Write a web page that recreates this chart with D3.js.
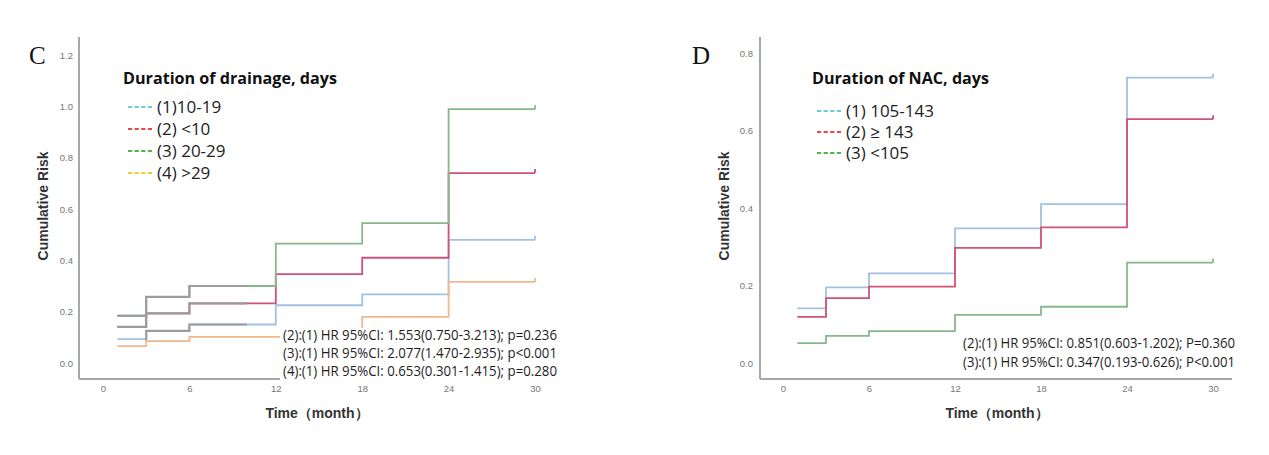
<!DOCTYPE html>
<html><head><meta charset="utf-8">
<script src="https://cdn.jsdelivr.net/npm/d3@7"></script>
<style>
html,body{margin:0;padding:0;background:#fff;}
svg{display:block;}
</style></head>
<body>
<svg id="chart" width="1269" height="455"></svg>
<script>
// ---------- DATA ----------
const timeSteps = [1, 3, 6, 12, 18, 24, 30];   // months at which each step begins (last = end of follow-up)
const xTicks = [0, 6, 12, 18, 24, 30];

// Panel C: Duration of drainage, days
const legendTitleC = "Duration of drainage, days";
const seriesNamesC = ["(1)10-19", "(2) <10", "(3) 20-29", "(4) >29"];
const riskC1 = [0.093, 0.125, 0.150, 0.225, 0.267, 0.480, 0.480];
const riskC2 = [0.141, 0.193, 0.232, 0.346, 0.410, 0.740, 0.740];
const riskC3 = [0.184, 0.258, 0.300, 0.465, 0.545, 0.989, 0.989];
const riskC4 = [0.066, 0.085, 0.102, 0.102, 0.180, 0.316, 0.316];
const yTicksC = [0, 0.2, 0.4, 0.6, 0.8, 1.0, 1.2];
const notesC = [
  "(2):(1) HR 95%CI: 1.553(0.750-3.213); p=0.236",
  "(3):(1) HR 95%CI: 2.077(1.470-2.935); p<0.001",
  "(4):(1) HR 95%CI: 0.653(0.301-1.415); p=0.280"
];

// Panel D: Duration of NAC, days
const legendTitleD = "Duration of NAC, days";
const seriesNamesD = ["(1) 105-143", "(2) \u2265 143", "(3) <105"];
const riskD1 = [0.142, 0.196, 0.232, 0.348, 0.411, 0.737, 0.737];
const riskD2 = [0.120, 0.168, 0.198, 0.298, 0.351, 0.630, 0.630];
const riskD3 = [0.052, 0.071, 0.083, 0.125, 0.146, 0.260, 0.260];
const yTicksD = [0, 0.2, 0.4, 0.6, 0.8];
const notesD = [
  "(2):(1) HR 95%CI: 0.851(0.603-1.202); P=0.360",
  "(3):(1) HR 95%CI: 0.347(0.193-0.626); P<0.001"
];

const xTitle = "Time\uFF08month\uFF09";
const yTitle = "Cumulative Risk";

// ---------- STYLE ----------
const lineColors = ["#a3c1e2", "#cf5277", "#86b88c", "#f1b88f"];
const legendColors = ["#3cc0c8", "#e01010", "#1a9a1a", "#f2b400"];
const axisColor = "#a8a8a8";
const greyLine = "#9c9c9c";

const svg = d3.select("#chart");

function drawPanel(p) {
  const g = svg.append("g");
  const x = d3.scaleLinear().domain([0, 30]).range([p.x0, p.x30]);
  const y = d3.scaleLinear().domain([0, p.yMax]).range([p.y0, p.yTop]);

  // axis lines
  g.append("line").attr("x1", p.axisX).attr("x2", p.axisX).attr("y1", p.axisTop).attr("y2", p.axisY)
    .attr("stroke", axisColor).attr("stroke-width", 2);
  g.append("line").attr("x1", p.axisX).attr("x2", p.axisRight).attr("y1", p.axisY).attr("y2", p.axisY)
    .attr("stroke", axisColor).attr("stroke-width", 2);

  // y axis labels
  const ya = g.append("g").attr("transform", `translate(${p.axisX},0)`)
    .call(d3.axisLeft(y).tickValues(p.yTicks).tickSize(0).tickPadding(p.yPad).tickFormat(d3.format(".1f")));
  ya.select(".domain").remove();
  ya.selectAll("text").attr("font-family", "Liberation Sans, Arial, sans-serif").attr("font-size", 9.5).attr("fill", "#777");

  const xa = g.append("g").attr("transform", `translate(0,${p.axisY})`)
    .call(d3.axisBottom(x).tickValues(xTicks).tickSize(0).tickPadding(6));
  xa.select(".domain").remove();
  xa.selectAll("text").attr("font-family", "Liberation Sans, Arial, sans-serif").attr("font-size", 9.5).attr("fill", "#777");

  // axis titles
  g.append("text").attr("x", p.xTitleX).attr("y", 418).attr("text-anchor", "middle")
    .attr("font-family", "Liberation Sans, Arial, sans-serif").attr("font-weight", "bold").attr("font-size", 14)
    .attr("fill", "#333").text(xTitle);
  g.append("text").attr("transform", `translate(${p.yTitleX},${p.yTitleY}) rotate(-90)`).attr("text-anchor", "middle")
    .attr("font-family", "Liberation Sans, Arial, sans-serif").attr("font-weight", "bold").attr("font-size", 14)
    .attr("fill", "#333").text(yTitle);

  // panel letter
  g.append("text").attr("x", p.letterX).attr("y", 64).attr("font-family", "Liberation Serif, Times New Roman, serif")
    .attr("font-size", 25).attr("fill", "#111").text(p.letter);

  // curves
  const stepLine = d3.line().x(d => x(d[0])).y(d => y(d[1])).curve(d3.curveStepAfter);
  p.series.forEach((vals, i) => {
    const pts = timeSteps.map((t, k) => [t, vals[k]]);
    g.append("path").attr("d", stepLine(pts)).attr("fill", "none")
      .attr("stroke", lineColors[i]).attr("stroke-width", 1.8);
    // censor tick at end
    const last = pts[pts.length - 1];
    g.append("line").attr("x1", x(last[0])).attr("x2", x(last[0]))
      .attr("y1", y(last[1])).attr("y2", y(last[1]) - 4)
      .attr("stroke", lineColors[i]).attr("stroke-width", 1.8);
  });

  // grey overlay (faded early part in the original)
  if (p.grey) {
    p.grey.forEach(gs => {
      const id = `clip-${p.letter}-${gs.i}`;
      svg.append("clipPath").attr("id", id).append("rect")
        .attr("x", x(gs.from) - 1).attr("width", x(gs.to) - x(gs.from) + 1)
        .attr("y", 0).attr("height", 455);
      const pts = timeSteps.map((t, k) => [t, p.series[gs.i][k]]);
      g.append("path").attr("d", stepLine(pts)).attr("fill", "none")
        .attr("stroke", greyLine).attr("stroke-width", 2.2).attr("clip-path", `url(#${id})`);
    });
  }

  // annotations
  g.append("rect").attr("x", p.noteX - 3).attr("y", p.noteY0 - 12).attr("width", p.noteW + 6)
    .attr("height", p.notes.length * p.noteStep + 2).attr("fill", "#fff");
  p.notes.forEach((s, i) => {
    g.append("text").attr("x", p.noteX).attr("y", p.noteY0 + i * p.noteStep)
      .attr("font-family", "Open Sans, sans-serif").attr("font-size", 14.5).attr("fill", "#1e1e1e")
      .attr("textLength", p.noteW).attr("lengthAdjust", "spacingAndGlyphs").text(s);
  });

  // legend
  g.append("text").attr("x", p.legX).attr("y", 84).attr("font-family", "Open Sans, sans-serif")
    .attr("font-weight", "bold").attr("font-size", 16.5).attr("fill", "#111")
    .attr("textLength", p.legTitleW).attr("lengthAdjust", "spacingAndGlyphs").text(p.legTitle);
  p.names.forEach((n, i) => {
    const yy = p.legY0 + i * p.legStep;
    g.append("line").attr("x1", p.legX + 5).attr("x2", p.legX + 30).attr("y1", yy).attr("y2", yy)
      .attr("stroke", legendColors[i]).attr("stroke-width", 1.6).attr("stroke-dasharray", "4.2,2.4");
    g.append("text").attr("x", p.legX + 34).attr("y", yy + 6).attr("font-family", "Open Sans, sans-serif")
      .attr("font-size", 17).attr("fill", "#222").text(n);
  });
}

drawPanel({
  letter: "C", letterX: 29,
  x0: 103, x30: 535, y0: 363, yTop: 55, yMax: 1.2,
  axisX: 79, axisTop: 37, axisY: 379, axisRight: 560, yPad: 6,
  yTicks: yTicksC, xTitleX: 317, yTitleX: 48, yTitleY: 206,
  series: [riskC1, riskC2, riskC3, riskC4],
  grey: [{i: 2, from: 1, to: 10}, {i: 1, from: 1, to: 10}, {i: 0, from: 3, to: 10}],
  notes: notesC, noteX: 283, noteY0: 340, noteStep: 18, noteW: 274,
  legTitle: legendTitleC, legTitleW: 214, legX: 123, legY0: 107, legStep: 22, names: seriesNamesC
});

drawPanel({
  letter: "D", letterX: 692,
  x0: 783, x30: 1213, y0: 363.3, yTop: 53.3, yMax: 0.8,
  axisX: 760, axisTop: 37, axisY: 379, axisRight: 1232, yPad: 7,
  yTicks: yTicksD, xTitleX: 997, yTitleX: 729, yTitleY: 206,
  series: [riskD1, riskD2, riskD3],
  notes: notesD, noteX: 963, noteY0: 348, noteStep: 19, noteW: 272,
  legTitle: legendTitleD, legTitleW: 177, legX: 812, legY0: 111, legStep: 21, names: seriesNamesD
});
</script>
</body></html>
